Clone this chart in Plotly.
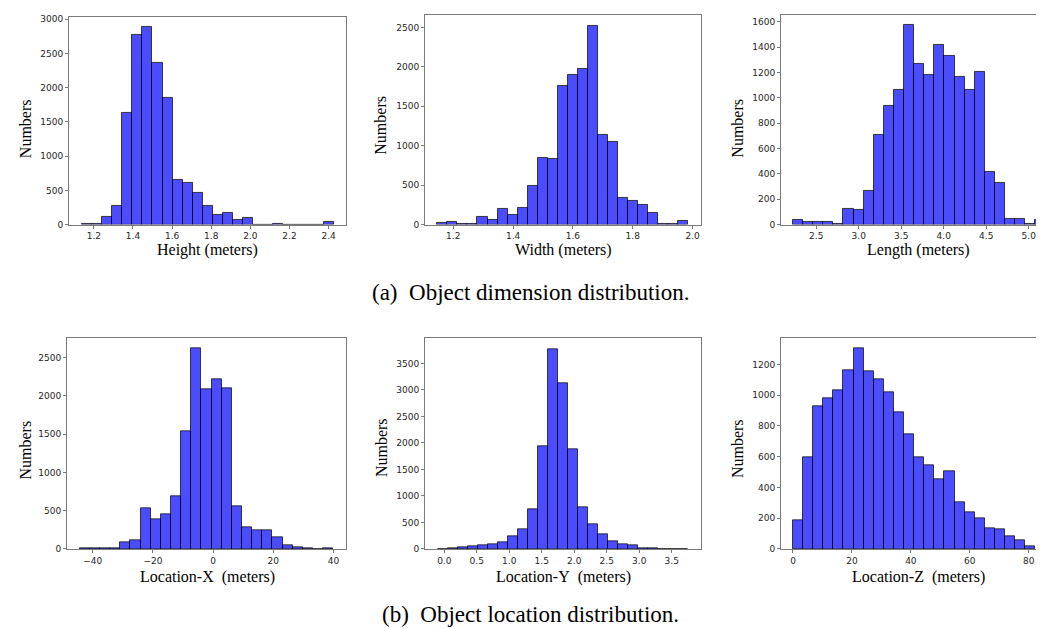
import plotly.graph_objects as go

W, H = 1044, 629

# ---------------- data ----------------
height_bin_start = 1.139
height_bin_width = 0.05152
height_counts = [10, 4, 110, 279, 1632, 2778, 2884, 2369, 1849, 650, 611, 457, 274,
                 135, 173, 72, 96, 0, 0, 5, 0, 0, 0, 0, 35]

width_bin_start = 1.1467
width_bin_width = 0.03356
width_counts = [17, 38, 12, 4, 92, 54, 196, 125, 213, 488, 839, 831, 1757, 1895,
                1970, 2525, 1140, 1052, 338, 305, 255, 150, 12, 10, 50]

length_bin_start = 2.2257
length_bin_width = 0.11881
length_counts = [36, 18, 18, 23, 8, 127, 114, 267, 709, 937, 1062, 1574, 1265, 1182,
                 1415, 1332, 1161, 1065, 1202, 418, 327, 47, 47, 3, 36]

locx_bin_start = -44.34
locx_bin_width = 3.372
locx_counts = [2, 2, 3, 8, 86, 112, 534, 388, 448, 681, 1534, 2616, 2086, 2220, 2103,
               552, 276, 241, 241, 155, 52, 26, 9, 1, 2]

locy_bin_start = -0.104
locy_bin_width = 0.15448
locy_counts = [2, 3, 37, 50, 68, 87, 125, 243, 361, 754, 1937, 3774, 3126, 1881, 778,
               473, 274, 143, 93, 75, 19, 6, 2, 1, 1]

locz_bin_start = 0.0
locz_bin_width = 3.427
locz_counts = [187, 593, 930, 977, 1035, 1159, 1303, 1155, 1106, 1020, 891, 747, 599,
               543, 451, 507, 303, 238, 202, 137, 127, 84, 58, 17]

x_titles = ["Height (meters)", "Width (meters)", "Length (meters)",
            "Location-X\u00a0 (meters)", "Location-Y\u00a0 (meters)", "Location-Z\u00a0 (meters)"]
y_title = "Numbers"
captions = ["(a)\u00a0 Object dimension distribution.", "(b)\u00a0 Object location distribution."]

x_tickvals = [[1.2, 1.4, 1.6, 1.8, 2.0, 2.2, 2.4],
              [1.2, 1.4, 1.6, 1.8, 2.0],
              [2.5, 3.0, 3.5, 4.0, 4.5, 5.0],
              [-40, -20, 0, 20, 40],
              [0.0, 0.5, 1.0, 1.5, 2.0, 2.5, 3.0, 3.5],
              [0, 20, 40, 60, 80]]
x_ticktext = [["1.2", "1.4", "1.6", "1.8", "2.0", "2.2", "2.4"],
              ["1.2", "1.4", "1.6", "1.8", "2.0"],
              ["2.5", "3.0", "3.5", "4.0", "4.5", "5.0"],
              ["\u221240", "\u221220", "0", "20", "40"],
              ["0.0", "0.5", "1.0", "1.5", "2.0", "2.5", "3.0", "3.5"],
              ["0", "20", "40", "60", "80"]]
y_tickvals = [list(range(0, 3001, 500)), list(range(0, 2501, 500)), list(range(0, 1601, 200)),
              list(range(0, 2501, 500)), list(range(0, 3501, 500)), list(range(0, 1201, 200))]

panels = [
    (height_bin_start, height_bin_width, height_counts),
    (width_bin_start, width_bin_width, width_counts),
    (length_bin_start, length_bin_width, length_counts),
    (locx_bin_start, locx_bin_width, locx_counts),
    (locy_bin_start, locy_bin_width, locy_counts),
    (locz_bin_start, locz_bin_width, locz_counts),
]

# ---------------- layout geometry (pixels) ----------------
boxes = [  # x0, x1, y0(top), y1(bottom)
    (61, 338, 7, 217),
    (417, 693, 5, 217),
    (773, 1044, 5, 217),
    (59, 338, 332, 545),
    (417, 693, 332, 545),
    (773, 1044, 332, 545),
]
x_ranges = [[1.073, 2.489], [1.1056, 2.028], [2.085, 5.274],
            [-48.56, 44.2], [-0.297, 3.951], [-4.07, 87.9]]
y_ranges = [[0, 3035], [0, 2659], [0, 1654], [0, 2750], [0, 3973], [0, 1370]]
clipped_right = [False, False, True, False, False, True]

xlabel_pos = [(199.5, 243), (555, 243), (910, 243), (199, 573), (555, 573), (910, 573)]
ylabel_pos = [(17.5, 120), (373, 117), (730, 120), (17.5, 445), (373, 443), (729, 444)]
caption_pos = [(522, 286), (522, 611)]

FACE = "rgba(0,0,255,0.7)"
EDGE = "rgba(0,0,0,0.7)"
SPINE = "#7a7a7a"
TICKFONT = dict(family="DejaVu Sans", size=9, color="#262626")
SERIF = "Liberation Serif"

fig = go.Figure()
layout = dict(width=W, height=H, autosize=False,
              margin=dict(l=0, r=0, t=0, b=0),
              paper_bgcolor="white", plot_bgcolor="white",
              showlegend=False, bargap=0)

annotations = []
for i, (start, bw, counts) in enumerate(panels):
    n = i + 1
    centers = [start + bw * (k + 0.5) for k in range(len(counts))]
    fig.add_trace(go.Bar(x=centers, y=counts, width=[bw] * len(counts),
                         marker=dict(color=FACE, line=dict(color=EDGE, width=1)),
                         xaxis=f"x{n}", yaxis=f"y{n}", hoverinfo="x+y"))
    x0, x1, yt, yb = boxes[i]
    layout[f"xaxis{n}"] = dict(
        domain=[x0 / W, x1 / W], anchor=f"y{n}", range=x_ranges[i],
        tickmode="array", tickvals=x_tickvals[i], ticktext=x_ticktext[i],
        ticks="outside", ticklen=3, tickcolor=SPINE, tickfont=TICKFONT,
        showline=True, linecolor=SPINE, linewidth=1, mirror=True,
        showgrid=False, zeroline=False, fixedrange=True)
    layout[f"yaxis{n}"] = dict(
        domain=[1 - yb / H, 1 - yt / H], anchor=f"x{n}", range=y_ranges[i],
        tickmode="array", tickvals=y_tickvals[i],
        ticks="outside", ticklen=3, tickcolor=SPINE, tickfont=TICKFONT,
        showline=True, linecolor=SPINE, linewidth=1,
        mirror=not clipped_right[i],
        showgrid=False, zeroline=False, fixedrange=True)
    xp, yp = xlabel_pos[i]
    annotations.append(dict(text=x_titles[i], x=xp / W, y=1 - yp / H, xref="paper", yref="paper",
                            showarrow=False, xanchor="center", yanchor="middle",
                            font=dict(family=SERIF, size=16, color="black")))
    xp, yp = ylabel_pos[i]
    annotations.append(dict(text=y_title, x=xp / W, y=1 - yp / H, xref="paper", yref="paper",
                            showarrow=False, xanchor="center", yanchor="middle", textangle=-90,
                            font=dict(family=SERIF, size=16, color="black")))

for cap, (xp, yp) in zip(captions, caption_pos):
    annotations.append(dict(text=cap, x=xp / W, y=1 - yp / H, xref="paper", yref="paper",
                            showarrow=False, xanchor="center", yanchor="middle",
                            font=dict(family=SERIF, size=23, color="black")))

layout["annotations"] = annotations
fig.update_layout(**layout)
fig.write_html("out.html")
